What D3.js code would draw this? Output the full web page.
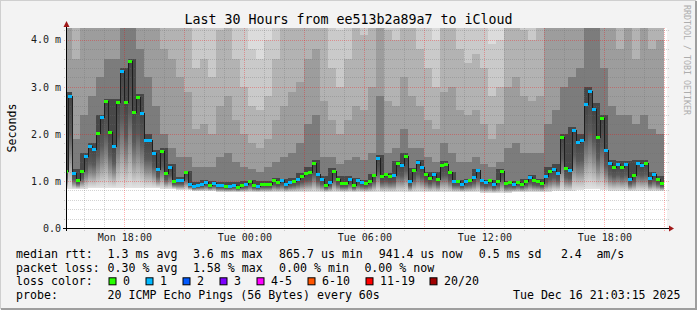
<!DOCTYPE html>
<html lang="en">
<head>
<meta charset="UTF-8">
<title>Last 30 Hours from ee513b2a89a7 to iCloud</title>
<script src="https://d3js.org/d3.v7.min.js"></script>
<style>
  html, body { margin: 0; padding: 0; background: #f3f3f3; }
  svg { display: block; font-family: "DejaVu Sans Mono", monospace; }
</style>
</head>
<body>
<svg width="697" height="310"></svg>
<script>
// ---- data ----
const title = "Last 30 Hours from ee513b2a89a7 to iCloud";
const viewStart = new Date(2025, 11, 15, 15, 5);
const viewEnd = new Date(2025, 11, 16, 21, 5);
const firstStep = new Date(2025, 11, 15, 15, 0);
const stepMinutes = 12;

// median rtt per 12-minute step (ms)
const medians = [
  1.21, 2.80, 1.16, 1.03, 1.22, 1.52, 1.74, 1.67, 2.01, 2.35, 2.69, 2.04, 1.74, 2.67, 3.33, 2.67, 3.55, 2.46, 2.78, 2.44,
  1.87, 1.87, 1.59, 1.25, 1.63, 1.16, 1.29, 0.99, 1.01, 1.01, 1.18, 0.93, 0.89, 0.91, 0.94, 0.97, 0.91, 0.95, 0.91, 0.91,
  0.89, 0.90, 0.91, 0.87, 0.91, 0.93, 0.99, 0.91, 0.89, 0.93, 0.93, 0.93, 1.01, 0.97, 1.01, 0.93, 0.97, 1.00, 1.04, 1.10,
  1.16, 1.18, 1.38, 1.14, 1.04, 0.91, 0.97, 1.21, 1.04, 0.95, 0.95, 1.04, 0.91, 1.01, 0.97, 0.95, 0.99, 1.12, 1.48, 1.10,
  1.14, 1.10, 1.12, 1.38, 1.33, 1.52, 0.99, 1.23, 1.40, 1.29, 1.14, 1.06, 1.14, 1.04, 1.33, 1.35, 1.18, 0.99, 0.99, 0.93,
  0.99, 1.01, 1.08, 1.23, 1.01, 0.97, 1.01, 0.93, 0.99, 1.21, 0.95, 0.97, 0.93, 0.97, 0.93, 0.99, 1.08, 1.01, 0.99, 0.95,
  1.10, 1.21, 1.25, 1.16, 1.93, 1.27, 1.23, 2.08, 1.82, 1.87, 2.63, 2.91, 2.52, 1.93, 2.33, 1.65, 1.38, 1.29, 1.35, 1.29,
  1.35, 1.04, 1.12, 1.38, 1.33, 1.38, 1.06, 1.14, 1.04, 0.95
];
// lost pings per step (index into lossLabels)
const lossClass = [
  0,1,1,0,0,1,1,1,0,1, 0,0,1,0,1,0,0,0,0,1, 1,1,1,1,0,0,1,0,1,1, 0,1,1,1,1,1,0,1,1,1,
  0,1,1,0,0,1,0,0,1,0, 0,0,0,0,1,1,1,0,1,0, 0,0,0,1,1,0,1,0,0,0, 0,1,0,1,1,0,0,0,1,0,
  0,0,1,0,1,0,1,0,1,1, 0,0,1,0,0,0,0,1,0,1, 1,0,1,1,1,1,0,1,0,0, 0,0,1,0,0,0,1,0,0,0,
  1,0,1,1,0,0,1,1,1,1, 1,1,1,0,0,1,1,0,1,0, 1,1,0,1,1,0,1,1,0,0
];

// smoke, one value per 24-minute column (ms)
const smokeLow = [
  0.82,0.83,0.83,0.84,0.84,0.85,0.86,0.86,0.86,0.85,0.85,0.84,0.83,0.82,0.80,0.80,0.78,0.78,0.78,0.77,
  0.76,0.76,0.76,0.76,0.76,0.76,0.76,0.76,0.76,0.77,0.77,0.77,0.76,0.76,0.76,0.76,0.76,0.76,0.76,0.76,
  0.76,0.76,0.76,0.76,0.76,0.76,0.76,0.76,0.76,0.76,0.76,0.76,0.75,0.75,0.75,0.75,0.76,0.76,0.76,0.77,
  0.77,0.78,0.78,0.79,0.80,0.82,0.82,0.81,0.79,0.78,0.78,0.78,0.78,0.78,0.78
];
const smokeP19 = [
  5,5,5,5,5,5,5,5,5,5,5,5,5,5,5,5,4.6,4.8,4.5,5,
  5,4.8,4.4,3.8,3.6,4.0,4.8,5,5,5,5,5,5,4.6,4.2,4.8,5,5,5,5,
  5,5,5,5,4.8,4.5,4.0,5,5,4.8,4.6,4.8,4.6,3.9,4.0,5,5,5,5,5,
  5,5,5,5,5,5,5,5,5,5,5,5,5,5,5
];
const smokeP17 = [
  5,4.4,5,5,5,5,5,5,5,5,5,5,5,5,4.6,4.4,3.4,3.6,3.2,4.2,
  4.4,3.6,3.0,2.6,2.5,2.8,3.6,4.4,4.5,4.6,5,5,4.3,3.4,3.0,3.6,4.3,4.1,4.6,5,
  4.2,4.0,4.6,4.4,3.8,3.4,3.0,4.4,4.6,3.8,3.5,3.7,3.4,2.8,3.0,4.5,4.5,4.2,4.0,4.4,
  5,5,5,5,5,5,5,5,5,5,5,4.8,5,4.6,5
];
const smokeP15 = [
  4.4,3.6,4.5,4.6,5,5,5,5,5,5,5,4.4,3.8,3.6,3.2,2.9,2.1,2.2,2.0,2.6,
  2.8,2.3,2.0,1.8,1.7,1.9,2.3,2.6,2.9,3.1,3.6,3.8,2.7,2.3,2.0,2.3,2.6,2.5,3.0,4.5,
  2.7,2.6,3.2,2.8,2.6,2.3,2.1,2.9,3.0,2.5,2.4,2.5,2.2,1.9,2.2,3.0,3.2,2.8,2.7,2.8,
  4.5,4.6,5,5,5,5,5,5,4.4,3.8,4.4,3.6,4.5,3.8,4.0
];
const smokeP13 = [
  2.2,1.9,2.4,2.8,3.2,3.6,3.6,5,5,3.8,3.2,2.6,2.0,1.7,1.5,1.5,1.3,1.3,1.3,1.5,
  1.6,1.4,1.3,1.25,1.2,1.3,1.4,1.5,1.6,1.8,2.2,2.4,1.5,1.5,1.35,1.45,1.5,1.45,1.6,2.8,
  1.6,1.7,2.1,1.7,1.7,1.5,1.4,1.8,1.6,1.4,1.4,1.5,1.35,1.3,1.4,1.7,1.8,1.6,1.6,1.6,
  2.2,2.5,3.0,3.2,3.4,5,4.6,3.4,2.6,2.4,2.4,2.2,2.4,2.1,2.0
];
const smokeP11 = [
  2.9,1.25,1.6,1.8,2.4,2.75,2.75,3.4,3.6,2.85,2.0,1.65,1.7,1.35,1.08,1.22,0.98,1.02,1.0,0.98,
  0.98,0.97,0.99,1.03,0.99,1.0,1.06,1.05,1.07,1.16,1.3,1.45,1.1,1.28,1.1,1.1,1.07,1.02,1.15,1.55,
  1.16,1.42,1.6,1.28,1.45,1.18,1.18,1.42,1.2,1.02,1.04,1.25,1.02,1.02,1.25,1.0,1.0,1.05,1.12,1.05,
  1.3,1.35,2.0,2.15,2.0,3.0,2.65,2.4,1.45,1.42,1.42,1.45,1.45,1.2,1.1
];

const xTicks = [new Date(2025, 11, 15, 18), new Date(2025, 11, 16, 0), new Date(2025, 11, 16, 6),
                new Date(2025, 11, 16, 12), new Date(2025, 11, 16, 18)];
const xTickLabels = ["Mon 18:00", "Tue 00:00", "Tue 06:00", "Tue 12:00", "Tue 18:00"];
const yTicks = [0, 1, 2, 3, 4];
const yTickLabels = ["0.0", "1.0 m", "2.0 m", "3.0 m", "4.0 m"];

const lossLabels = ["0", "1", "2", "3", "4-5", "6-10", "11-19", "20/20"];
const lossColors = ["#26ff00", "#00b8ff", "#0059ff", "#7e00ff", "#ff00ff", "#ff5500", "#ff0000", "#a00000"];
const rttStats = ["1.3 ms avg", "3.6 ms max", "865.7 us min", "941.4 us now", "0.5 ms sd", "2.4", "am/s"];
const lossStats = ["0.30 % avg", "1.58 % max", "0.00 % min", "0.00 % now"];
const probeText = "20 ICMP Echo Pings (56 Bytes) every 60s";
const stampText = "Tue Dec 16 21:03:15 2025";

// ---- layout ----
const svg = d3.select("svg");
const plot = { left: 66, right: 666, top: 28, bottom: 228 };
const x = d3.scaleTime().domain([viewStart, viewEnd]).range([plot.left, plot.right]);
const y = d3.scaleLinear().domain([0, 4.25]).range([plot.bottom, plot.top]);
const stepTime = k => d3.timeMinute.offset(firstStep, stepMinutes * k);

// frame
svg.append("rect").attr("width", 697).attr("height", 310).attr("fill", "#f3f3f3");
svg.append("path").attr("d", "M0,309 V0 H696").attr("fill", "none").attr("stroke", "#cfcfcf").attr("stroke-width", 2);
svg.append("path").attr("d", "M1,309 H696 V1").attr("fill", "none").attr("stroke", "#9e9e9e").attr("stroke-width", 2);

const defs = svg.append("defs");
defs.append("clipPath").attr("id", "plotclip").append("rect")
  .attr("x", plot.left).attr("y", plot.top)
  .attr("width", plot.right - plot.left + 1).attr("height", plot.bottom - plot.top);
const grad = defs.append("linearGradient").attr("id", "lowfringe")
  .attr("x1", 0).attr("y1", 1).attr("x2", 0).attr("y2", 0);
[[0, "#e4e4e4"], [0.15, "#bdbdbd"], [0.35, "#8a8a8a"], [0.6, "#5a5a5a"], [1, "#444444"]].forEach(([o, c]) =>
  grad.append("stop").attr("offset", o).attr("stop-color", c));

svg.append("rect").attr("x", plot.left).attr("y", plot.top)
  .attr("width", plot.right - plot.left + 1).attr("height", plot.bottom - plot.top).attr("fill", "#ffffff");

// smoke
const smokeLevels = [smokeP19, smokeP17, smokeP15, smokeP13, smokeP11];
const smokeColors = ["#cacaca", "#b3b3b3", "#9d9d9d", "#7c7c7c", "#484848"];
const smoke = svg.append("g").attr("clip-path", "url(#plotclip)").attr("shape-rendering", "crispEdges");
medians.forEach((m, k) => {
  const c = k >> 1;
  const x0 = Math.round(x(stepTime(k))), x1 = Math.round(x(stepTime(k + 1)));
  const ym = y(m);
  smoke.append("rect").attr("x", x0).attr("width", x1 - x0)
    .attr("y", plot.top).attr("height", y(smokeLow[c]) - plot.top).attr("fill", "#dcdcdc");
  smokeLevels.forEach((lv, j) => {
    const top = lv[c];
    if (top <= m) return;
    smoke.append("rect").attr("x", x0).attr("width", x1 - x0)
      .attr("y", Math.round(y(top))).attr("height", Math.max(0, Math.round(ym) - Math.round(y(top))))
      .attr("fill", smokeColors[j]);
  });
  smoke.append("rect").attr("x", x0).attr("width", x1 - x0)
    .attr("y", Math.round(ym)).attr("height", Math.max(1, Math.round(y(smokeLow[c])) - Math.round(ym)))
    .attr("fill", "url(#lowfringe)");
});

// grid
const grid = svg.append("g").attr("fill", "none").attr("shape-rendering", "crispEdges");
const hours = d3.timeHour.range(d3.timeHour.ceil(viewStart), viewEnd);
const minorY = d3.range(1, 22).map(i => i * 0.2).filter(v => Math.abs(v - Math.round(v)) > 0.01);
grid.selectAll(".vmin").data(hours.filter(h => h.getHours() % 3 !== 0)).join("line")
  .attr("x1", d => Math.round(x(d)) + 0.5).attr("x2", d => Math.round(x(d)) + 0.5)
  .attr("y1", plot.top).attr("y2", plot.bottom + 3)
  .attr("stroke", "rgba(110,110,110,0.3)").attr("stroke-dasharray", "1,1");
grid.selectAll(".hmin").data(minorY).join("line")
  .attr("x1", plot.left - 2).attr("x2", plot.right + 3)
  .attr("y1", d => Math.round(y(d)) + 0.5).attr("y2", d => Math.round(y(d)) + 0.5)
  .attr("stroke", "rgba(110,110,110,0.3)").attr("stroke-dasharray", "1,1");
grid.selectAll(".vmaj").data(hours.filter(h => h.getHours() % 3 === 0)).join("line")
  .attr("x1", d => Math.round(x(d)) + 0.5).attr("x2", d => Math.round(x(d)) + 0.5)
  .attr("y1", plot.top).attr("y2", plot.bottom + 3)
  .attr("stroke", "rgba(255,0,0,0.3)").attr("stroke-dasharray", "1,1");
grid.selectAll(".hmaj").data(yTicks.slice(1)).join("line")
  .attr("x1", plot.left - 2).attr("x2", plot.right + 3)
  .attr("y1", d => Math.round(y(d)) + 0.5).attr("y2", d => Math.round(y(d)) + 0.5)
  .attr("stroke", "rgba(255,0,0,0.3)").attr("stroke-dasharray", "1,1");

// median line + loss coloured steps
const med = svg.append("g").attr("clip-path", "url(#plotclip)");
const pts = medians.map((m, k) => [stepTime(k), m]).concat([[stepTime(medians.length), medians[medians.length - 1]]]);
med.append("path").datum(pts)
  .attr("d", d3.line().x(d => x(d[0])).y(d => Math.round(y(d[1])) + 0.5).curve(d3.curveStepAfter))
  .attr("fill", "none").attr("stroke", "#1e1e1e").attr("stroke-width", 1).attr("shape-rendering", "crispEdges");
med.selectAll("rect").data(medians).join("rect")
  .attr("x", (d, k) => Math.round(x(stepTime(k))))
  .attr("width", (d, k) => Math.round(x(stepTime(k + 1))) - Math.round(x(stepTime(k))))
  .attr("y", d => Math.round(y(d)) - 1).attr("height", 3)
  .attr("fill", (d, k) => lossColors[lossClass[k]]).attr("shape-rendering", "crispEdges");

// axes
svg.append("line").attr("x1", plot.left - 3).attr("x2", plot.right + 4)
  .attr("y1", plot.bottom + 0.5).attr("y2", plot.bottom + 0.5).attr("stroke", "#000").attr("shape-rendering", "crispEdges");
svg.append("line").attr("x1", plot.left + 0.5).attr("x2", plot.left + 0.5)
  .attr("y1", plot.bottom + 3).attr("y2", plot.top - 4).attr("stroke", "#000").attr("shape-rendering", "crispEdges");
svg.append("path").attr("d", `M${plot.left - 2.5},${plot.top - 1} L${plot.left + 3.5},${plot.top - 1} L${plot.left + 0.5},${plot.top - 7} Z`).attr("fill", "#a01818");
svg.append("path").attr("d", `M${plot.right + 3},${plot.bottom - 2.5} L${plot.right + 3},${plot.bottom + 3.5} L${plot.right + 8},${plot.bottom + 0.5} Z`).attr("fill", "#a01818");

const xAxis = svg.append("g").attr("transform", `translate(0,${plot.bottom})`)
  .call(d3.axisBottom(x).tickValues(xTicks).tickFormat((d, i) => xTickLabels[i]).tickSize(0).tickPadding(6));
xAxis.select(".domain").remove();
xAxis.selectAll("text").attr("font-family", "DejaVu Sans Mono").attr("font-size", 10).attr("fill", "#1a1a1a");

const yAxis = svg.append("g").attr("transform", `translate(61,0)`)
  .call(d3.axisLeft(y).tickValues(yTicks).tickFormat((d, i) => yTickLabels[i]).tickSize(0).tickPadding(0));
yAxis.select(".domain").remove();
yAxis.selectAll("text").attr("font-family", "DejaVu Sans Mono").attr("font-size", 10).attr("fill", "#1a1a1a");

// titles
svg.append("text").attr("x", 348.5).attr("y", 24).attr("text-anchor", "middle")
  .attr("font-size", 13.3).attr("fill", "#000").text(title);
svg.append("text").attr("transform", "translate(15.5,128) rotate(-90)").attr("text-anchor", "middle")
  .attr("font-size", 11.6).attr("fill", "#000").text("Seconds");
svg.append("text").attr("transform", "translate(683.5,5) rotate(90)")
  .attr("font-size", 8.3).attr("fill", "#adadad").text("RRDTOOL / TOBI OETIKER");

// legend
const leg = svg.append("g").attr("font-size", 11.6).attr("fill", "#000");
const rowY = [258.3, 271.8, 285.3, 298.8];
const rttX = [107.6, 192.9, 279.1, 378.7, 478.7, 560.9, 596.4];
const lossX = [107.6, 192.9, 279.1, 364.4];
const boxX = [108.5, 145.5, 182.5, 219.5, 256.5, 307.5, 365.5, 429.5];
leg.append("text").attr("x", 16).attr("y", rowY[0]).text("median rtt:");
rttStats.forEach((s, i) => leg.append("text").attr("x", rttX[i]).attr("y", rowY[0]).text(s));
leg.append("text").attr("x", 16).attr("y", rowY[1]).text("packet loss:");
lossStats.forEach((s, i) => leg.append("text").attr("x", lossX[i]).attr("y", rowY[1]).text(s));
leg.append("text").attr("x", 16).attr("y", rowY[2]).text("loss color:");
lossLabels.forEach((s, i) => {
  leg.append("rect").attr("x", boxX[i] + 0.5).attr("y", rowY[2] - 7.5).attr("width", 7).attr("height", 7)
    .attr("fill", lossColors[i]).attr("stroke", "#000").attr("stroke-width", 1);
  leg.append("text").attr("x", boxX[i] + 14.6).attr("y", rowY[2]).text(s);
});
leg.append("text").attr("x", 16).attr("y", rowY[3]).text("probe:");
leg.append("text").attr("x", 107.6).attr("y", rowY[3]).text(probeText);
leg.append("text").attr("x", 680.5).attr("y", rowY[3]).attr("text-anchor", "end").text(stampText);
</script>
</body>
</html>
